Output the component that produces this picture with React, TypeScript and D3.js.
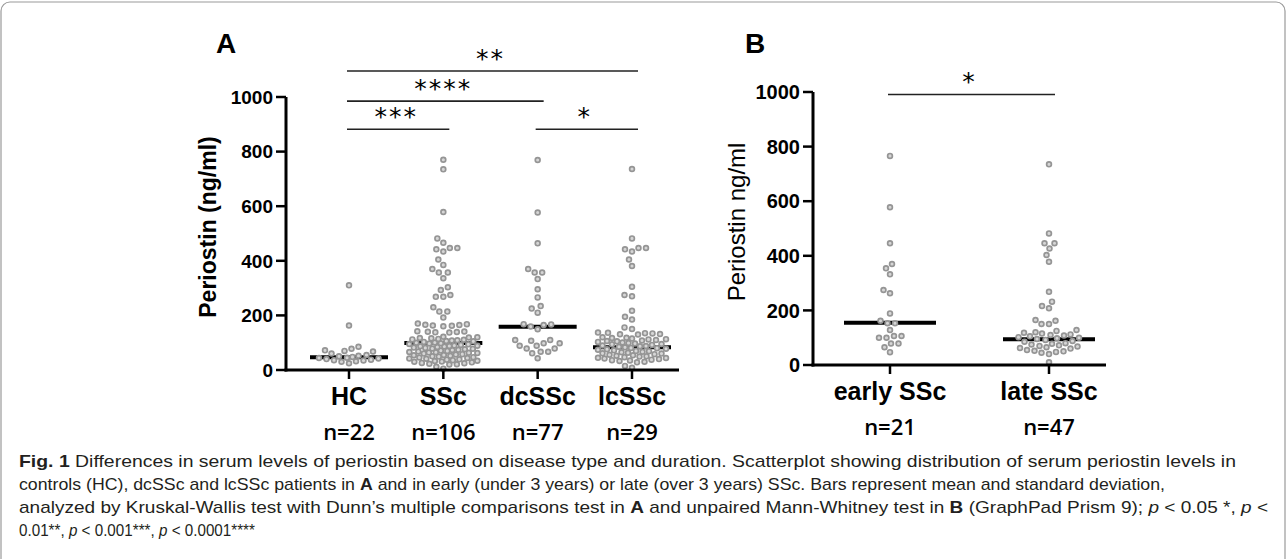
import React from "react";
import * as d3 from "d3";

// panel A
const catsA = ["HC", "SSc", "dcSSc", "lcSSc"];
const nLabelsA = ["n=22", "n=106", "n=77", "n=29"];
const hc = [310, 163, 85, 78, 72, 70, 68, 60, 55, 52, 50, 48, 45, 44, 42, 40, 38, 36, 35, 32, 30, 25];
const ssc = [
  770, 735, 579, 482, 466, 447, 447, 442, 434, 405, 385, 370, 357, 357, 336, 303, 293, 275, 268, 268,
  230, 214, 214, 192, 168, 165, 163, 166, 160, 170, 162, 142, 140, 138, 141, 137, 139, 12, 5,
  122, 120, 119, 117, 116, 114, 112, 111, 109, 108, 106, 105, 103, 101, 100, 98, 97, 95, 94, 92,
  90, 89, 87, 86, 84, 82, 81, 79, 78, 76, 74, 73, 71, 70, 68, 66, 65, 63, 62, 60,
  58, 57, 55, 54, 52, 50, 49, 47, 46, 44, 42, 41, 39, 38, 36, 34, 33, 31, 30, 28,
  26, 25, 23, 21, 20, 88, 64,
];
const dcssc = [769, 577, 464, 370, 357, 357, 333, 296, 266, 234, 225, 210, 168, 165, 149, 159, 167, 110, 110, 107, 98, 98, 89, 89, 79, 79, 67, 67, 61, 43];
const lcssc = [
  736, 482, 447, 447, 442, 434, 405, 381, 305, 275, 270, 217, 195, 185, 156, 150,
  136, 132, 135, 130, 134, 131, 137, 15, 8,
  120, 118, 117, 115, 113, 112, 110, 108, 106, 105, 103, 101, 99, 97, 95, 94, 92, 90, 88, 87,
  85, 83, 81, 80, 78, 76, 74, 72, 70, 69, 67, 65, 63, 61, 60, 58, 56, 54, 52, 50,
  49, 47, 45, 44, 42, 40, 38, 36, 35, 33, 30, 28,
];
const centerA = [47, 99, 158, 83];

// panel B
const catsB = ["early SSc", "late SSc"];
const nLabelsB = ["n=21", "n=47"];
const early = [766, 578, 446, 370, 354, 332, 275, 263, 189, 162, 153, 153, 128, 106, 106, 100, 100, 79, 79, 65, 47];
const late = [
  735, 482, 446, 446, 427, 403, 378, 268, 232, 216, 208, 165, 162, 150, 150,
  128, 125, 120, 118, 115, 112, 110, 108, 105, 102, 100, 98, 95, 92, 88, 85, 80, 78, 75, 72,
  70, 68, 65, 62, 60, 55, 52, 50, 48, 45, 40, 10,
];
const centerB = [155, 94];

const yTicks = [0, 200, 400, 600, 800, 1000];

const sigA = [
  { from: "HC", to: "lcSSc", level: 1095, stars: "**" },
  { from: "HC", to: "dcSSc", level: 985, stars: "****" },
  { from: "HC", to: "SSc", level: 882, stars: "***" },
  { from: "dcSSc", to: "lcSSc", level: 882, stars: "*" },
];
const sigB = [{ from: "early SSc", to: "late SSc", level: 991, stars: "*" }];

function swarm(values: number[], y: (v: number) => number, cx: number, d: number, maxHalf: number) {
  const placed: { x: number; y: number }[] = [];
  const sorted = [...values].sort((a, b) => a - b);
  for (const v of sorted) {
    const py = y(v);
    let best = 0;
    let bestScore = -1;
    for (let k = 0; k <= maxHalf * 4; k++) {
      const off = (k % 2 === 0 ? 1 : -1) * Math.ceil(k / 2) * 0.5;
      let minD = Infinity;
      for (const p of placed) {
        const dy = p.y - py;
        if (Math.abs(dy) >= d) continue;
        const dd = Math.hypot(p.x - (cx + off), dy);
        if (dd < minD) minD = dd;
      }
      if (minD >= d) { best = off; bestScore = Infinity; break; }
      if (minD > bestScore + 0.3) { bestScore = minD; best = off; }
    }
    placed.push({ x: cx + best, y: py });
  }
  return placed;
}

const tickFont = "'Liberation Sans', Arial, sans-serif";

function Panel(props: {
  cats: string[]; nLabels: string[]; groups: number[][]; centers: number[];
  sig: { from: string; to: string; level: number; stars: string }[];
  axisX: number; xRange: [number, number]; xEnd: number; yRange: [number, number];
  lineHalf: number; yTitle: string; yTitleBold: boolean; yTitleX: number; yTitleY: number; yTitleSize: number;
  catSize: number; catBaseline: number; catWeight: number; nBaseline: number;
  tickSize: number; letter: string; letterX: number;
}) {
  const p = props;
  const x = d3.scalePoint<string>().domain(p.cats).range(p.xRange);
  const y = d3.scaleLinear().domain([0, 1000]).range(p.yRange);
  const y0 = y(0);
  return (
    <g>
      <text x={p.letterX} y={53} fontFamily={tickFont} fontWeight={700} fontSize={28}>{p.letter}</text>
      {/* center lines */}
      {p.cats.map((c, i) => (
        <line key={"c" + c} x1={x(c)! - p.lineHalf} x2={x(c)! + p.lineHalf} y1={y(p.centers[i])} y2={y(p.centers[i])} stroke="#000" strokeWidth={4} />
      ))}
      {/* dots */}
      {p.cats.map((c, i) =>
        swarm(p.groups[i], y, x(c)!, 7.2, 34).map((pt, j) => (
          <circle key={c + j} cx={pt.x} cy={pt.y} r={2.4} fill="#d6d6d6" stroke="#959595" strokeWidth={1.7} />
        ))
      )}
      {/* axes */}
      <line x1={p.axisX} x2={p.axisX} y1={y(1000)} y2={y0 + 1.5} stroke="#000" strokeWidth={3} />
      <line x1={p.axisX - 1.5} x2={p.xEnd} y1={y0} y2={y0} stroke="#000" strokeWidth={3} />
      {yTicks.map((t) => (
        <g key={"t" + t}>
          <line x1={p.axisX - 10} x2={p.axisX} y1={y(t)} y2={y(t)} stroke="#000" strokeWidth={2.5} />
          <text x={p.axisX - 13} y={y(t)} dy="0.36em" textAnchor="end" fontFamily={tickFont} fontWeight={700} fontSize={p.tickSize}>{t}</text>
        </g>
      ))}
      {p.cats.map((c, i) => (
        <g key={"x" + c}>
          <line x1={x(c)} x2={x(c)} y1={y0} y2={y0 + 9} stroke="#000" strokeWidth={2.5} />
          <text x={x(c)} y={p.catBaseline} textAnchor="middle" fontFamily={tickFont} fontWeight={p.catWeight} fontSize={p.catSize}>{c}</text>
          <text x={x(c)} y={p.nBaseline} textAnchor="middle" fontFamily="'Open Sans', sans-serif" fontWeight={600} fontSize={22}>{p.nLabels[i]}</text>
        </g>
      ))}
      <text transform={`translate(${p.yTitleX},${p.yTitleY}) rotate(-90)`} textAnchor="middle" fontFamily={tickFont} fontWeight={p.yTitleBold ? 700 : 400} fontSize={p.yTitleSize}>{p.yTitle}</text>
      {/* significance bars */}
      {p.sig.map((s, i) => {
        const xa = x(s.from)!;
        const xb = x(s.to)!;
        return (
          <g key={"s" + i}>
            <line x1={xa - 2} x2={xb + 6} y1={y(s.level)} y2={y(s.level)} stroke="#222" strokeWidth={1.6} />
            <text x={(xa + xb) / 2} y={y(s.level) - 4} textAnchor="middle" fontFamily="'DejaVu Sans', sans-serif" fontSize={25} letterSpacing={2}>{s.stars}</text>
          </g>
        );
      })}
    </g>
  );
}

export default function App() {
  const capFont = "'Liberation Sans', Arial, sans-serif";
  return (
    <div style={{ position: "absolute", left: 0, top: 0 }}>
      <svg width={1287} height={559} style={{ display: "block", background: "#fff" }}>
        <rect x={1} y={2} width={1284} height={575} rx={9} fill="none" stroke="#9a9a9a" strokeWidth={1.2} />
        <Panel cats={catsA} nLabels={nLabelsA} groups={[hc, ssc, dcssc, lcssc]} centers={centerA} sig={sigA}
          axisX={286} xRange={[349, 632]} xEnd={679} yRange={[370, 97]} lineHalf={39}
          yTitle="Periostin (ng/ml)" yTitleBold={true} yTitleX={216} yTitleY={227} yTitleSize={23}
          catSize={25} catBaseline={405} catWeight={700} nBaseline={440} tickSize={19} letter="A" letterX={216} />
        <Panel cats={catsB} nLabels={nLabelsB} groups={[early, late]} centers={centerB} sig={sigB}
          axisX={813} xRange={[890, 1049]} xEnd={1106} yRange={[365, 92]} lineHalf={46}
          yTitle="Periostin ng/ml" yTitleBold={false} yTitleX={745} yTitleY={222} yTitleSize={24}
          catSize={25} catBaseline={400} catWeight={700} nBaseline={435} tickSize={20} letter="B" letterX={745} />
        <g fontFamily={capFont} fontSize={17} fill="#231f20">
          <text x={19} y={467} textLength={1217} lengthAdjust="spacingAndGlyphs">
            <tspan fontWeight={700}>Fig. 1</tspan>  Differences in serum levels of periostin based on disease type and duration. Scatterplot showing distribution of serum periostin levels in
          </text>
          <text x={19} y={490} textLength={1146} lengthAdjust="spacingAndGlyphs">
            controls (HC), dcSSc and lcSSc patients in <tspan fontWeight={700}>A</tspan> and in early (under 3 years) or late (over 3 years) SSc. Bars represent mean and standard deviation,
          </text>
          <text x={19} y={513} textLength={1249} lengthAdjust="spacingAndGlyphs">
            analyzed by Kruskal-Wallis test with Dunn’s multiple comparisons test in <tspan fontWeight={700}>A</tspan> and unpaired Mann-Whitney test in <tspan fontWeight={700}>B</tspan> (GraphPad Prism 9); <tspan fontStyle="italic">p</tspan> &lt; 0.05 *, <tspan fontStyle="italic">p</tspan> &lt;
          </text>
          <text transform="translate(19,536) scale(0.895,1)">
            0.01**, <tspan fontStyle="italic">p</tspan> &lt; 0.001***, <tspan fontStyle="italic">p</tspan> &lt; 0.0001****
          </text>
        </g>
      </svg>
    </div>
  );
}
